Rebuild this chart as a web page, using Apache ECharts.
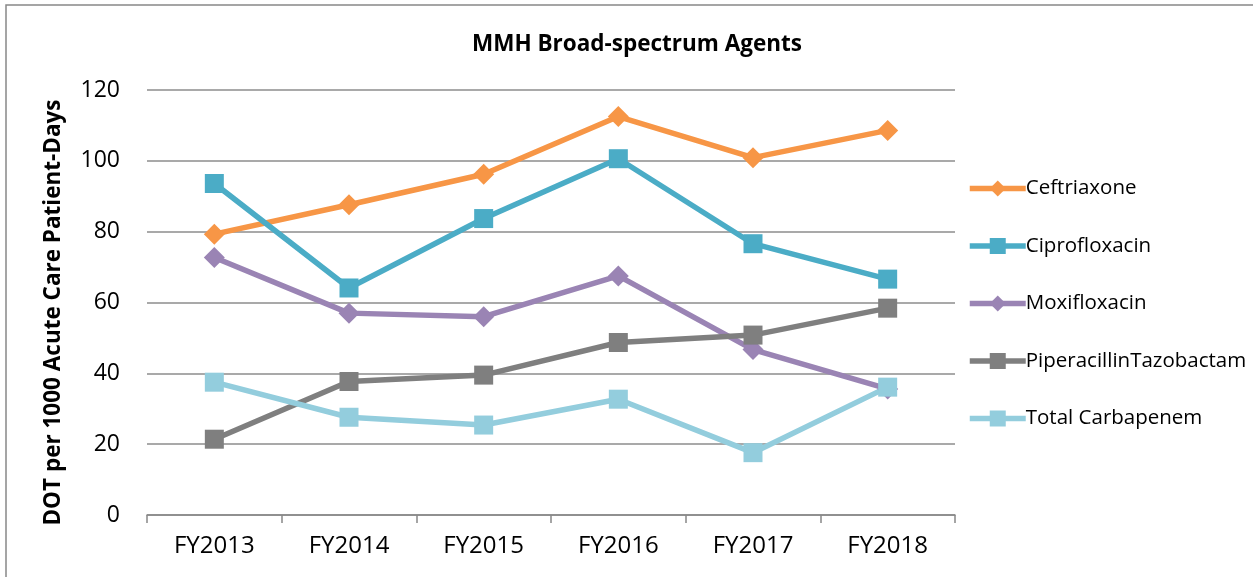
<!DOCTYPE html>
<html>
<head>
<meta charset="utf-8">
<script src="https://cdn.jsdelivr.net/npm/echarts@6/dist/echarts.min.js"></script>
<style>
  html, body { margin: 0; padding: 0; background: #fff; }
  #chart { width: 1253px; height: 577px; }
</style>
</head>
<body>
<div id="chart"></div>
<script>
var years = ['FY2013', 'FY2014', 'FY2015', 'FY2016', 'FY2017', 'FY2018']
var ceftriaxone = [79.3, 87.6, 96.2, 112.5, 100.9, 108.6]
var ciprofloxacin = [93.6, 64.1, 83.7, 100.6, 76.6, 66.6]
var moxifloxacin = [72.7, 57.0, 56.0, 67.5, 46.7, 35.6]
var piperacillin = [21.4, 37.7, 39.5, 48.7, 50.8, 58.4]
var carbapenem = [37.5, 27.6, 25.4, 32.7, 17.6, 36.1]

var FONT = '"Open Sans", "DejaVu Sans", sans-serif'

function makeSeries(name, data, color, symbol, size) {
    return {
        name: name,
        type: 'line',
        data: data,
        symbol: symbol,
        symbolSize: size,
        lineStyle: { width: 5.5, color: color },
        itemStyle: { color: color },
        emphasis: { disabled: true }
    }
}

var chart = echarts.init(document.getElementById('chart'))
chart.setOption({
    animation: false,
    title: {
        text: 'MMH Broad-spectrum Agents',
        left: 632,
        top: 28,
        textAlign: 'center',
        textStyle: { fontFamily: FONT, fontSize: 22.5, fontWeight: 'bold', color: '#000' }
    },
    graphic: [{
        type: 'rect',
        shape: { x: 6, y: 5, width: 1260, height: 590 },
        style: { fill: 'none', stroke: '#888', lineWidth: 1.5 },
        silent: true
    }],
    legend: {
        orient: 'vertical',
        left: 962,
        top: 173,
        itemGap: 36.5,
        itemWidth: 56,
        itemHeight: 20,
        lineStyle: { width: 5.5 },
        textStyle: { fontFamily: FONT, fontSize: 20.5, color: '#000', padding: [0, 0, 0, -5] },
        data: ['Ceftriaxone', 'Ciprofloxacin', 'Moxifloxacin', 'PiperacillinTazobactam', 'Total Carbapenem']
    },
    grid: { left: 147, right: 298, top: 90, bottom: 62 },
    xAxis: {
        type: 'category',
        data: years,
        boundaryGap: true,
        axisLine: { lineStyle: { color: '#888', width: 1.5 } },
        axisTick: { show: true, length: 8, lineStyle: { color: '#888', width: 1.5 } },
        axisLabel: { fontFamily: FONT, fontSize: 24, color: '#000', margin: 19 }
    },
    yAxis: {
        type: 'value',
        min: 0,
        max: 120,
        interval: 20,
        name: 'DOT per 1000 Acute Care Patient-Days',
        nameLocation: 'middle',
        nameGap: 82,
        nameTextStyle: { fontFamily: FONT, fontSize: 22.5, fontWeight: 'bold', color: '#000', padding: [0, 20, 0, 0] },
        axisLine: { show: false },
        axisTick: { show: false },
        axisLabel: { fontFamily: FONT, fontSize: 23, color: '#000', margin: 27 },
        splitLine: { lineStyle: { color: '#8c8c8c', width: 1.5 } }
    },
    series: [
        makeSeries('Ceftriaxone', ceftriaxone, '#f79646', 'diamond', 21),
        makeSeries('Ciprofloxacin', ciprofloxacin, '#4bacc6', 'rect', 19),
        makeSeries('Moxifloxacin', moxifloxacin, '#9a84b4', 'diamond', 21),
        makeSeries('PiperacillinTazobactam', piperacillin, '#7f7f7f', 'rect', 19),
        makeSeries('Total Carbapenem', carbapenem, '#93cddd', 'rect', 19)
    ]
})
</script>
</body>
</html>
